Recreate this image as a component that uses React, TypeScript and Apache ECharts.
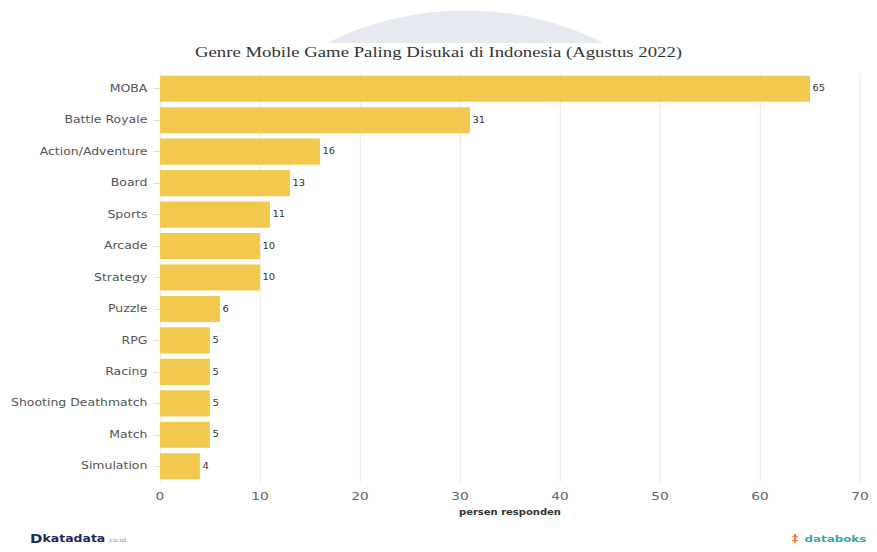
import React, { useEffect, useRef } from "react";
import * as echarts from "echarts";

const categories = [
  "MOBA",
  "Battle Royale",
  "Action/Adventure",
  "Board",
  "Sports",
  "Arcade",
  "Strategy",
  "Puzzle",
  "RPG",
  "Racing",
  "Shooting Deathmatch",
  "Match",
  "Simulation",
];
const values = [65, 31, 16, 13, 11, 10, 10, 6, 5, 5, 5, 5, 4];
const xTicks = [0, 10, 20, 30, 40, 50, 60, 70];

const titleText = "Genre Mobile Game Paling Disukai di Indonesia (Agustus 2022)";
const axisName = "persen responden";

// The reference is horizontally stretched; render narrower and stretch.
const W = 702;
const H = 552;
const SX = 877 / W;
const FOOT_Y = 539;

echarts.graphic.registerShape(
  "arcbg",
  echarts.graphic.extendPath("M262,43 A203.7,203.7 0 0 1 483,43 Z", {})
);

export default function App() {
  const ref = useRef<HTMLDivElement>(null);
  useEffect(() => {
    if (!ref.current) return;
    const chart = echarts.init(ref.current, undefined, { renderer: "svg" });
    chart.setOption({
      animation: false,
      backgroundColor: "#ffffff",
      title: {
        text: titleText,
        left: "center",
        top: 40,
        textStyle: {
          fontFamily: "Liberation Serif",
          fontWeight: "normal",
          fontSize: 15,
          color: "#333333",
        },
      },
      graphic: [
        {
          type: "arcbg",
          x: 0,
          y: 0,
          z: -10,
          silent: true,
          style: { fill: "#e6e9f0" },
        },
        {
          type: "text",
          x: 24,
          y: FOOT_Y,
          style: {
            text: "D",
            fontFamily: "DejaVu Sans",
            fontWeight: "bold",
            fontSize: 12,
            fill: "#1d2b5a",
            verticalAlign: "middle",
          },
        },
        {
          type: "text",
          x: 34,
          y: FOOT_Y,
          style: {
            text: "katadata",
            fontFamily: "DejaVu Sans",
            fontWeight: "bold",
            fontSize: 10,
            fill: "#1d2b5a",
            verticalAlign: "middle",
          },
        },
        {
          type: "text",
          x: 86,
          y: FOOT_Y + 1,
          style: {
            text: ".co.id",
            fontFamily: "DejaVu Sans",
            fontSize: 5.5,
            fill: "#8a8fa5",
            verticalAlign: "middle",
          },
        },
        {
          type: "text",
          x: 634,
          y: FOOT_Y,
          style: {
            text: "\u2021",
            fontFamily: "DejaVu Sans",
            fontWeight: "bold",
            fontSize: 10,
            fill: "#f07c3c",
            verticalAlign: "middle",
          },
        },
        {
          type: "text",
          x: 644,
          y: FOOT_Y,
          style: {
            text: "databoks",
            fontFamily: "DejaVu Sans",
            fontWeight: "bold",
            fontSize: 9.5,
            fill: "#3ba6a8",
            verticalAlign: "middle",
          },
        },
      ],
      grid: {
        left: 128,
        right: 13.6,
        top: 73,
        bottom: 70,
        containLabel: false,
      },
      xAxis: {
        type: "value",
        min: 0,
        max: 70,
        interval: 10,
        name: axisName,
        nameLocation: "middle",
        nameGap: 26,
        nameTextStyle: {
          fontFamily: "DejaVu Sans",
          fontWeight: "bold",
          fontSize: 8,
          color: "#333333",
        },
        axisLine: { show: false },
        axisTick: { show: false },
        axisLabel: {
          fontFamily: "DejaVu Sans",
          fontSize: 11,
          color: "#666666",
          margin: 9,
          formatter: (v: number) => (xTicks.includes(v) ? String(v) : ""),
        },
        splitLine: { show: true, lineStyle: { color: "#eeeeee", width: 1 } },
      },
      yAxis: {
        type: "category",
        data: categories,
        inverse: true,
        axisLine: { show: true, lineStyle: { color: "#eeeeee" } },
        axisTick: { show: true, alignWithLabel: true, length: 5, lineStyle: { color: "#dddddd" } },
        axisLabel: {
          fontFamily: "DejaVu Sans",
          fontSize: 10,
          color: "#555555",
          margin: 10,
        },
      },
      series: [
        {
          type: "bar",
          data: values,
          barCategoryGap: "17%",
          itemStyle: { color: "#f2c94f" },
          label: {
            show: true,
            position: "right",
            distance: 2,
            fontFamily: "DejaVu Sans",
            fontSize: 8,
            color: "#333333",
          },
        },
      ],
    });
    return () => chart.dispose();
  }, []);
  return (
    <div style={{ width: 877, height: H, margin: -8, overflow: "hidden" }}>
      <div
        ref={ref}
        style={{
          width: W,
          height: H,
          transform: `scaleX(${SX})`,
          transformOrigin: "0 0",
        }}
      />
    </div>
  );
}
